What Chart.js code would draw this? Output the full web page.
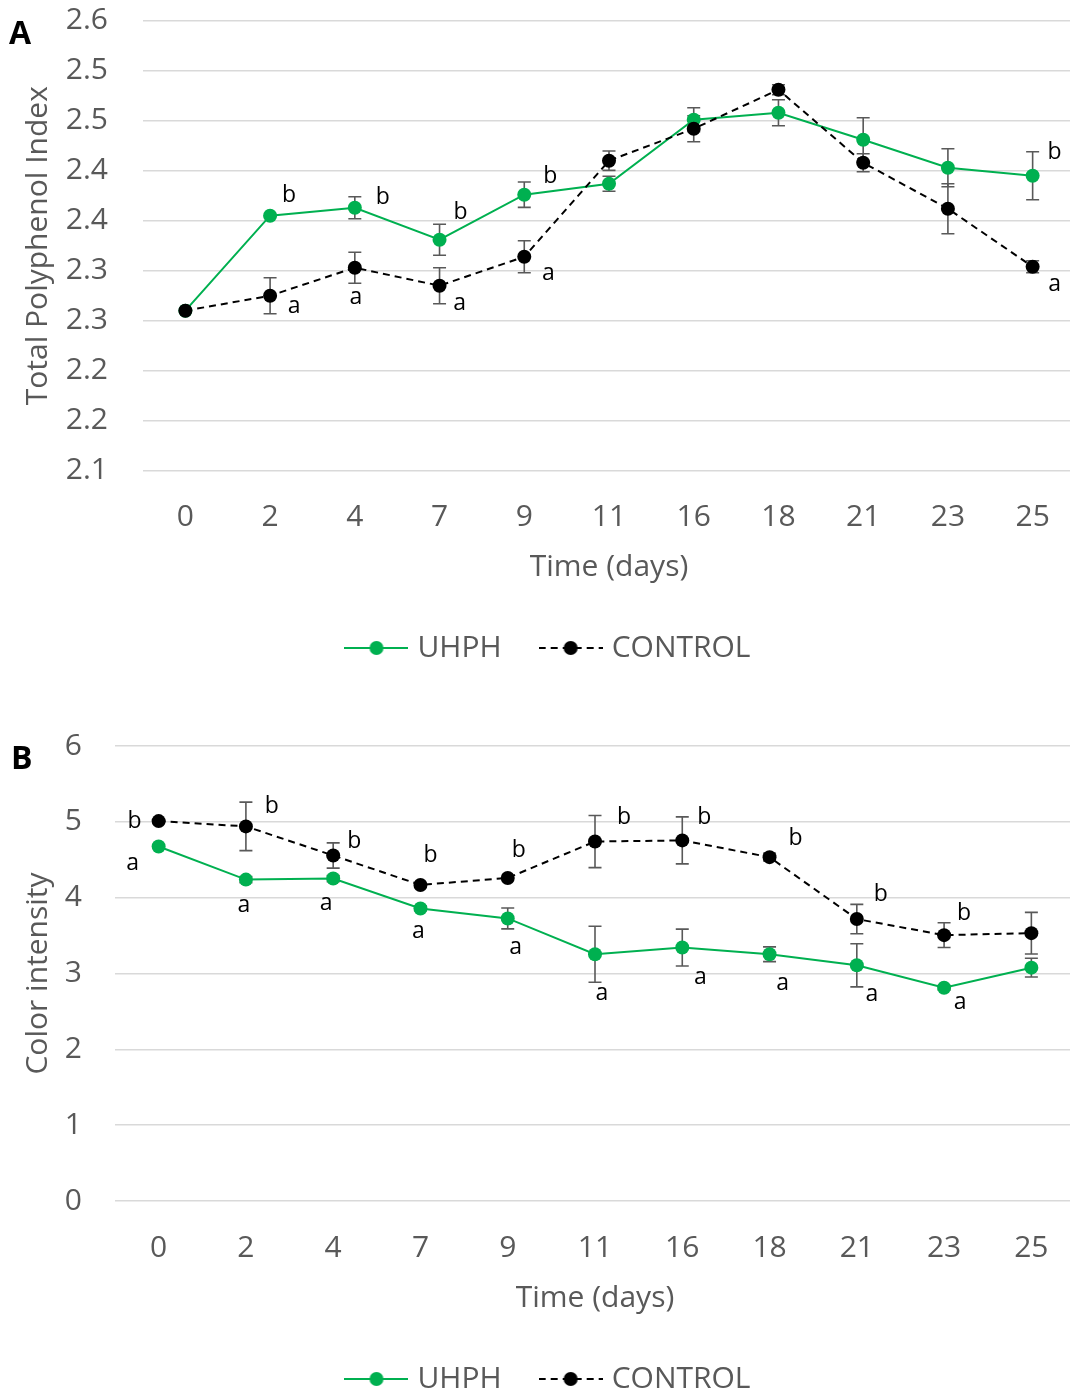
<!DOCTYPE html>
<html>
<head>
<meta charset="utf-8">
<script src="https://cdn.jsdelivr.net/npm/chart.js@4.4.0/dist/chart.umd.min.js"></script>
<style>
  html, body { margin: 0; padding: 0; background: #fff; overflow: hidden; width: 1070px; height: 1392px; }
  .panel { position: absolute; left: 0; }
  #panelA { top: 0; }
  #panelB { top: 700px; }
  .tag { position: absolute; font: bold 32px "Open Sans", sans-serif; color: #000; line-height: 1; }
</style>
</head>
<body>
<div class="panel" id="panelA"><canvas id="chartA" width="1100" height="695"></canvas></div>
<div class="panel" id="panelB"><canvas id="chartB" width="1100" height="720"></canvas></div>
<div class="tag" style="left:9px;top:16px">A</div>
<div class="tag" style="left:11px;top:741px">B</div>
<script>
// sampling days (shared by both panels)
const days = ['0', '2', '4', '7', '9', '11', '16', '18', '21', '23', '25'];

// Panel A - Total Polyphenol Index
const tpiUhph       = [2.310, 2.405, 2.413, 2.381, 2.426, 2.437, 2.501, 2.508, 2.481, 2.453, 2.445];
const tpiUhphErr    = [0, 0, 0.011, 0.0155, 0.0127, 0.0075, 0.012, 0.013, 0.022, 0.019, 0.024];
const tpiControl    = [2.310, 2.325, 2.353, 2.335, 2.364, 2.460, 2.492, 2.531, 2.458, 2.412, 2.354];
const tpiControlErr = [0, 0.018, 0.0155, 0.018, 0.016, 0.0097, 0.013, 0.005, 0.009, 0.025, 0.006];
const tpiTickValues = [2.15, 2.20, 2.25, 2.30, 2.35, 2.40, 2.45, 2.50, 2.55, 2.60];
const tpiTickLabels = ['2.1', '2.2', '2.2', '2.3', '2.3', '2.4', '2.4', '2.5', '2.5', '2.6'];
const tpiUhphLetters    = ['', 'b', 'b', 'b', 'b', '', '', '', '', '', 'b'];
const tpiControlLetters = ['', 'a', 'a', 'a', 'a', '', '', '', '', '', 'a'];

// Panel B - Color intensity
const ciUhph       = [4.675, 4.238, 4.252, 3.858, 3.726, 3.254, 3.342, 3.254, 3.108, 2.812, 3.077];
const ciUhphErr    = [0, 0.04, 0.04, 0.03, 0.137, 0.37, 0.243, 0.097, 0.285, 0.03, 0.124];
const ciControl    = [5.01, 4.94, 4.556, 4.168, 4.26, 4.74, 4.755, 4.534, 3.718, 3.506, 3.532];
const ciControlErr = [0, 0.32, 0.166, 0, 0, 0.344, 0.31, 0.05, 0.194, 0.163, 0.274];
const ciTickValues = [0, 1, 2, 3, 4, 5, 6];
const ciTickLabels = ['0', '1', '2', '3', '4', '5', '6'];
const ciUhphLetters    = ['a', 'a', 'a', 'a', 'a', 'a', 'a', 'a', 'a', 'a', ''];
const ciControlLetters = ['b', 'b', 'b', 'b', 'b', 'b', 'b', 'b', 'b', 'b', ''];

// where each significance letter sits relative to its marker (px)
const tpiUhphLetterPos    = [null, [19, -20], [28, -10], [21, -27], [26, -18], null, null, null, null, null, [22, -23]];
const tpiControlLetterPos = [null, [24, 11], [1, 30], [20, 18], [24, 17], null, null, null, null, null, [22, 18]];
const ciUhphLetterPos     = [[-26, 17], [-2, 26], [-7, 25], [-2, 23], [8, 29], [7, 39], [18, 30], [13, 29], [15, 29], [16, 15], null];
const ciControlLetterPos  = [[-24, 0], [26, -20], [21, -14], [10, -29], [11, -27], [29, -24], [22, -23], [26, -19], [24, -25], [20, -22], null];

const GREEN = '#00B050';
const GREY = '#595959';
const FONT = '"Open Sans", sans-serif';

// legend sample: short line with a marker in the middle
function legendIcon(color, dashed) {
  const c = document.createElement('canvas');
  c.width = 64;
  c.height = 16;
  const g = c.getContext('2d');
  g.strokeStyle = color;
  g.lineWidth = 2;
  if (dashed) g.setLineDash([7, 5]);
  g.beginPath();
  g.moveTo(0, 8);
  g.lineTo(64, 8);
  g.stroke();
  g.fillStyle = color;
  g.beginPath();
  g.arc(32, 8, 7, 0, Math.PI * 2);
  g.fill();
  return c;
}
const legendIcons = [legendIcon(GREEN, false), legendIcon('#000', true)];

// error bars + significance letters
const annotations = {
  id: 'annotations',
  beforeDatasetsDraw(chart, args, opts) {
    const ctx = chart.ctx;
    const y = chart.scales.y;
    ctx.save();
    ctx.strokeStyle = GREY;
    ctx.lineWidth = 1.6;
    opts.errors.forEach((errs, di) => {
      const meta = chart.getDatasetMeta(di);
      const vals = chart.data.datasets[di].data;
      errs.forEach((e, i) => {
        if (!e) return;
        const x = meta.data[i].x;
        const top = y.getPixelForValue(vals[i] + e);
        const bot = y.getPixelForValue(vals[i] - e);
        ctx.beginPath();
        ctx.moveTo(x, top); ctx.lineTo(x, bot);
        ctx.moveTo(x - 6.5, top); ctx.lineTo(x + 6.5, top);
        ctx.moveTo(x - 6.5, bot); ctx.lineTo(x + 6.5, bot);
        ctx.stroke();
      });
    });
    ctx.restore();
  },
  afterDatasetsDraw(chart, args, opts) {
    const ctx = chart.ctx;
    ctx.save();
    ctx.fillStyle = '#000';
    ctx.font = '23px ' + FONT;
    ctx.textAlign = 'center';
    ctx.textBaseline = 'middle';
    opts.letters.forEach((letters, di) => {
      const meta = chart.getDatasetMeta(di);
      letters.forEach((t, i) => {
        const pos = opts.letterPos[di][i];
        if (!t || !pos) return;
        const pt = meta.data[i];
        ctx.fillText(t, pt.x + pos[0], pt.y + pos[1]);
      });
    });
    ctx.restore();
  }
};

function makeChart(id, cfg) {
  return new Chart(document.getElementById(id), {
    type: 'line',
    data: {
      labels: days,
      datasets: [
        {
          label: 'UHPH',
          data: cfg.uhph,
          borderColor: GREEN,
          backgroundColor: GREEN,
          borderWidth: 2,
          pointRadius: 7,
          pointBorderWidth: 0,
          pointBackgroundColor: GREEN,
          tension: 0
        },
        {
          label: 'CONTROL',
          data: cfg.control,
          borderColor: '#000',
          backgroundColor: '#000',
          borderWidth: 2,
          borderDash: [7, 5],
          pointRadius: 7,
          pointBorderWidth: 0,
          pointBackgroundColor: '#000',
          tension: 0,
          order: -1
        }
      ]
    },
    options: {
      responsive: false,
      animation: false,
      layout: {
        padding: { left: 26, right: 25, top: cfg.padTop, bottom: cfg.padBottom }
      },
      plugins: {
        tooltip: { enabled: false },
        legend: {
          position: 'bottom',
          labels: {
            usePointStyle: true,
            pointStyleWidth: 52,
            padding: 43,
            color: GREY,
            font: { family: FONT, size: 30 },
            generateLabels(chart) {
              const items = Chart.defaults.plugins.legend.labels.generateLabels(chart);
              items.forEach(it => { it.pointStyle = legendIcons[it.datasetIndex]; });
              return items.sort((a, b) => a.datasetIndex - b.datasetIndex);
            }
          }
        },
        annotations: {
          errors: [cfg.uhphErr, cfg.controlErr],
          letters: [cfg.uhphLetters, cfg.controlLetters],
          letterPos: [cfg.uhphLetterPos, cfg.controlLetterPos]
        }
      },
      scales: {
        x: {
          offset: true,
          grid: { display: false },
          border: { display: false },
          ticks: {
            color: GREY,
            padding: 21,
            maxRotation: 0,
            autoSkip: false,
            font: { family: FONT, size: 30 }
          },
          title: {
            display: true,
            text: 'Time (days)',
            color: GREY,
            padding: { top: 0, bottom: 5 },
            font: { family: FONT, size: 30 }
          },
          afterFit(scale) { scale.height = cfg.xHeight; }
        },
        y: {
          min: cfg.yMin,
          max: cfg.yMax,
          grid: { color: '#d9d9d9', lineWidth: 1.4, drawTicks: false },
          border: { display: false },
          afterBuildTicks(scale) {
            scale.ticks = cfg.tickValues.map(v => ({ value: v }));
          },
          ticks: {
            color: GREY,
            padding: cfg.tickPad,
            font: { family: FONT, size: 30 },
            callback: (v, i) => cfg.tickLabels[i]
          },
          title: {
            display: true,
            text: cfg.yTitle,
            color: GREY,
            padding: { top: -3, bottom: 0 },
            font: { family: FONT, size: 30, lineHeight: 1 }
          },
          afterFit(scale) {
            scale.width = cfg.yWidth;
            // keep the plot top/bottom fixed by the layout padding only
            scale.paddingTop = 0;
            scale.paddingBottom = 0;
          }
        }
      }
    },
    plugins: [annotations]
  });
}

makeChart('chartA', {
  uhph: tpiUhph, uhphErr: tpiUhphErr, control: tpiControl, controlErr: tpiControlErr,
  uhphLetters: tpiUhphLetters, controlLetters: tpiControlLetters,
  uhphLetterPos: tpiUhphLetterPos, controlLetterPos: tpiControlLetterPos,
  tickValues: tpiTickValues, tickLabels: tpiTickLabels,
  yMin: 2.15, yMax: 2.60, yTitle: 'Total Polyphenol Index',
  padTop: 20.7, padBottom: 22, xHeight: 119.3, yWidth: 117, tickPad: 35
});

makeChart('chartB', {
  uhph: ciUhph, uhphErr: ciUhphErr, control: ciControl, controlErr: ciControlErr,
  uhphLetters: ciUhphLetters, controlLetters: ciControlLetters,
  uhphLetterPos: ciUhphLetterPos, controlLetterPos: ciControlLetterPos,
  tickValues: ciTickValues, tickLabels: ciTickLabels,
  yMin: 0, yMax: 6, yTitle: 'Color intensity',
  padTop: 46, padBottom: 16, xHeight: 120, yWidth: 89, tickPad: 33
});
</script>
</body>
</html>
